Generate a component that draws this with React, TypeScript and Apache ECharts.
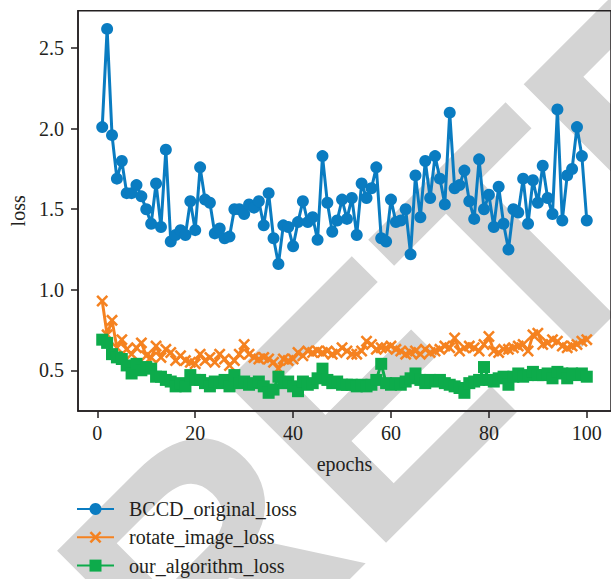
import React, { useEffect, useRef } from "react";
import * as echarts from "echarts";

const epochs: number[] = [
  1, 2, 3, 4, 5, 6, 7, 8, 9, 10, 11, 12, 13, 14, 15, 16, 17, 18, 19, 20,
  21, 22, 23, 24, 25, 26, 27, 28, 29, 30, 31, 32, 33, 34, 35, 36, 37, 38, 39, 40,
  41, 42, 43, 44, 45, 46, 47, 48, 49, 50, 51, 52, 53, 54, 55, 56, 57, 58, 59, 60,
  61, 62, 63, 64, 65, 66, 67, 68, 69, 70, 71, 72, 73, 74, 75, 76, 77, 78, 79, 80,
  81, 82, 83, 84, 85, 86, 87, 88, 89, 90, 91, 92, 93, 94, 95, 96, 97, 98, 99, 100,
];

const bccdOriginalLoss: number[] = [
  2.01, 2.62, 1.96, 1.69, 1.8, 1.6, 1.6, 1.65, 1.58, 1.5, 1.41, 1.66, 1.39, 1.87, 1.3, 1.34, 1.37, 1.34, 1.55, 1.37,
  1.76, 1.56, 1.54, 1.35, 1.38, 1.32, 1.33, 1.5, 1.5, 1.47, 1.53, 1.51, 1.55, 1.4, 1.6, 1.32, 1.16, 1.4, 1.39, 1.27,
  1.42, 1.55, 1.42, 1.45, 1.31, 1.83, 1.54, 1.36, 1.43, 1.56, 1.44, 1.57, 1.34, 1.66, 1.57, 1.63, 1.76, 1.32, 1.3, 1.56,
  1.42, 1.43, 1.5, 1.22, 1.71, 1.45, 1.8, 1.57, 1.83, 1.69, 1.53, 2.1, 1.63, 1.65, 1.74, 1.55, 1.44, 1.81, 1.5, 1.59,
  1.39, 1.64, 1.41, 1.25, 1.5, 1.48, 1.69, 1.41, 1.68, 1.54, 1.77, 1.57, 1.47, 2.12, 1.43, 1.71, 1.75, 2.01, 1.83, 1.43,
];

const rotateImageLoss: number[] = [
  0.93, 0.72, 0.81, 0.64, 0.69, 0.63, 0.6, 0.64, 0.67, 0.59, 0.58, 0.65, 0.58, 0.63, 0.61, 0.56, 0.59, 0.56, 0.55, 0.54,
  0.6, 0.56, 0.58, 0.55, 0.6, 0.57, 0.53, 0.56, 0.6, 0.66, 0.6, 0.58, 0.57, 0.58, 0.57, 0.55, 0.51, 0.57, 0.56, 0.57,
  0.61, 0.59, 0.62, 0.61, 0.62, 0.61, 0.62, 0.6, 0.61, 0.64, 0.62, 0.6, 0.6, 0.62, 0.68, 0.66, 0.63, 0.64, 0.64, 0.65,
  0.63, 0.62, 0.6, 0.61, 0.62, 0.6, 0.63, 0.61, 0.62, 0.63, 0.65, 0.64, 0.7, 0.62, 0.64, 0.65, 0.64, 0.62, 0.66, 0.71,
  0.62, 0.61, 0.63, 0.63, 0.64, 0.65, 0.66, 0.62, 0.72, 0.73, 0.66, 0.67, 0.69, 0.68, 0.65, 0.64, 0.65, 0.66, 0.68, 0.69,
];

const ourAlgorithmLoss: number[] = [
  0.69, 0.67, 0.6, 0.58, 0.57, 0.53, 0.48, 0.54, 0.5, 0.52, 0.51, 0.46, 0.46, 0.44, 0.43, 0.4, 0.42, 0.4, 0.47, 0.44,
  0.44, 0.42, 0.4, 0.43, 0.42, 0.44, 0.4, 0.47, 0.42, 0.43, 0.41, 0.42, 0.43, 0.4, 0.36, 0.38, 0.46, 0.42, 0.43, 0.4,
  0.37, 0.43, 0.41, 0.42, 0.45, 0.51, 0.44, 0.42, 0.43, 0.41, 0.41, 0.41, 0.4, 0.41, 0.4, 0.41, 0.44, 0.54, 0.42, 0.41,
  0.42, 0.41, 0.43, 0.45, 0.48, 0.44, 0.42, 0.44, 0.43, 0.44, 0.42, 0.41, 0.4, 0.39, 0.36, 0.42, 0.43, 0.44, 0.52, 0.44,
  0.43, 0.45, 0.46, 0.41, 0.46, 0.48, 0.46, 0.47, 0.49, 0.47, 0.47, 0.48, 0.45, 0.49, 0.48, 0.45, 0.48, 0.47, 0.48, 0.46,
];

const xTicks: number[] = [0, 20, 40, 60, 80, 100];
const yTicks: number[] = [0.5, 1.0, 1.5, 2.0, 2.5];

const seriesNames = ["BCCD_original_loss", "rotate_image_loss", "our_algorithm_loss"];

const FONT = "Liberation Serif";
const INK = "#231f20";
const X_MARK = "path://M0,1.5L1.5,0L5,3.5L8.5,0L10,1.5L6.5,5L10,8.5L8.5,10L5,6.5L1.5,10L0,8.5L3.5,5Z";

export default function App() {
  const ref = useRef<HTMLDivElement>(null);

  useEffect(() => {
    if (!ref.current) return;
    const chart = echarts.init(ref.current, null, { renderer: "svg" });
    const pairs = (vals: number[]) => epochs.map((e, i) => [e, vals[i]]);

    chart.setOption({
      animation: false,
      backgroundColor: "transparent",
      graphic: {
        elements: [
          {
            type: "text",
            x: 121,
            y: 646,
            rotation: Math.PI / 4,
            z: -100,
            silent: true,
            style: {
              text: "RETRACTED",
              fontFamily: "Liberation Sans",
              fontWeight: "bold",
              fontSize: 330,
              fill: "#d4d4d4",
              align: "left",
              verticalAlign: "middle",
            },
          },
        ],
      },
      grid: {
        left: 76.8,
        top: 10.7,
        right: -5,
        bottom: 168,
        show: true,
        borderColor: INK,
        borderWidth: 1.5,
        backgroundColor: "transparent",
      },
      legend: {
        orient: "vertical",
        left: 76,
        top: 499,
        padding: 0,
        itemWidth: 37,
        itemHeight: 15,
        itemGap: 8.3,
        data: seriesNames,
        textStyle: {
          fontFamily: FONT,
          fontSize: 20,
          lineHeight: 20,
          color: INK,
          padding: [0, 0, 0, 10],
        },
      },
      xAxis: {
        type: "value",
        min: -3.95,
        max: 104.95,
        name: "epochs",
        nameLocation: "middle",
        nameGap: 43,
        nameTextStyle: { fontFamily: FONT, fontSize: 20, color: INK },
        axisLine: { show: true, onZero: false, lineStyle: { color: INK, width: 1.5 } },
        axisTick: { show: true, length: 7, customValues: xTicks, lineStyle: { color: INK, width: 1.5 } },
        axisLabel: {
          customValues: xTicks,
          margin: 12,
          fontFamily: FONT,
          fontSize: 20,
          color: INK,
          formatter: (v: number) => String(Math.round(v)),
        },
        splitLine: { show: false },
      },
      yAxis: {
        type: "value",
        min: 0.247,
        max: 2.733,
        name: "loss",
        nameLocation: "middle",
        nameGap: 50,
        nameTextStyle: { fontFamily: FONT, fontSize: 20, color: INK },
        axisLine: { show: true, onZero: false, lineStyle: { color: INK, width: 1.5 } },
        axisTick: { show: true, length: 7, customValues: yTicks, lineStyle: { color: INK, width: 1.5 } },
        axisLabel: {
          customValues: yTicks,
          margin: 14,
          fontFamily: FONT,
          fontSize: 20,
          color: INK,
          formatter: (v: number) => v.toFixed(1),
        },
        splitLine: { show: false },
      },
      series: [
        {
          name: seriesNames[0],
          type: "line",
          data: pairs(bccdOriginalLoss),
          symbol: "circle",
          symbolSize: 12,
          itemStyle: { color: "#0a7cc1" },
          lineStyle: { color: "#0a7cc1", width: 3 },
          z: 2,
        },
        {
          name: seriesNames[1],
          type: "line",
          data: pairs(rotateImageLoss),
          symbol: X_MARK,
          symbolSize: 12,
          itemStyle: { color: "#f58220" },
          lineStyle: { color: "#f58220", width: 3 },
          z: 3,
        },
        {
          name: seriesNames[2],
          type: "line",
          data: pairs(ourAlgorithmLoss),
          symbol: "rect",
          symbolSize: 12,
          itemStyle: { color: "#0dab4b" },
          lineStyle: { color: "#0dab4b", width: 3 },
          z: 4,
        },
      ],
    });
    return () => chart.dispose();
  }, []);

  return (
    <div
      ref={ref}
      style={{ position: "fixed", left: 0, top: 0, width: 611, height: 579, background: "#fff" }}
    />
  );
}
